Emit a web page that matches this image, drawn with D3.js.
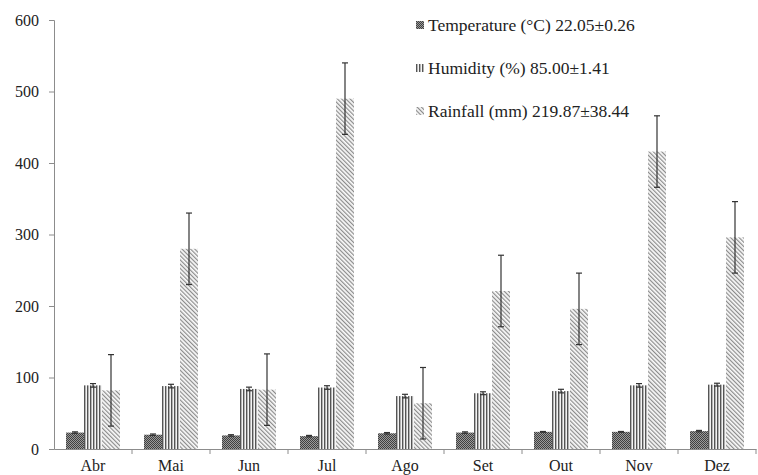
<!DOCTYPE html>
<html>
<head>
<meta charset="utf-8">
<script src="https://cdn.jsdelivr.net/npm/d3@7"></script>
<style>
	body { margin: 0; background: #fff; }
	svg, text { font-family: "Liberation Serif", "Times New Roman", serif; }
</style>
</head>
<body>
<svg id="chart" width="758" height="475"></svg>
<script>
const months = ['Abr', 'Mai', 'Jun', 'Jul', 'Ago', 'Set', 'Out', 'Nov', 'Dez'];
const series_names = ['Temperature (°C) 22.05±0.26', 'Humidity (%) 85.00±1.41', 'Rainfall (mm) 219.87±38.44'];
const temperature = [23, 20, 19, 18, 22, 23, 24, 24, 25];
const temperature_err = [1, 1, 1, 1, 1, 1, 0.5, 0.5, 1];
const humidity = [89, 88, 84, 86, 74, 78, 81, 89, 90];
const humidity_err = [2.5, 2.5, 2.5, 2.5, 2.5, 2, 2.5, 2.5, 2];
const rainfall = [82, 280, 83, 490, 64, 221, 196, 416, 296];
const rainfall_err = [50, 50, 50, 50, 50, 50, 50, 50, 50];
const y_ticks = [0, 100, 200, 300, 400, 500, 600];

let svg = d3.select('#chart'),
	margin = {left: 54, right: 2, top: 20, bottom: 26},
	width = 758 - margin.left - margin.right,
	height = 475 - margin.top - margin.bottom,
	serif = '"Liberation Serif", "Times New Roman", serif';

// patterns
let defs = svg.append('defs');

let p_temp = defs.append('pattern')
	.attr('id', 'pat_temp')
	.attr('patternUnits', 'userSpaceOnUse')
	.attr('width', 2).attr('height', 2);
p_temp.append('rect').attr('width', 2).attr('height', 2).attr('fill', '#9a9a9a');
p_temp.append('rect').attr('width', 1).attr('height', 1).attr('fill', '#404040');
p_temp.append('rect').attr('x', 1).attr('y', 1).attr('width', 1).attr('height', 1).attr('fill', '#404040');

let p_hum = defs.append('pattern')
	.attr('id', 'pat_hum')
	.attr('patternUnits', 'userSpaceOnUse')
	.attr('width', 3).attr('height', 3);
p_hum.append('rect').attr('width', 3).attr('height', 3).attr('fill', '#f4f4f4');
p_hum.append('rect').attr('width', 1.4).attr('height', 3).attr('fill', '#555');

let p_rain = defs.append('pattern')
	.attr('id', 'pat_rain')
	.attr('patternUnits', 'userSpaceOnUse')
	.attr('width', 3).attr('height', 3)
	.attr('patternTransform', 'rotate(-45)');
p_rain.append('rect').attr('width', 3).attr('height', 3).attr('fill', '#fafafa');
p_rain.append('rect').attr('width', 1.2).attr('height', 3).attr('fill', '#8c8c8c');

const fills = ['url(#pat_temp)', 'url(#pat_hum)', 'url(#pat_rain)'];

let x = d3.scaleBand()
	.domain(months)
	.range([0, width])
	.paddingInner(0)
	.paddingOuter(0);

let xInner = d3.scaleBand()
	.domain([0, 1, 2])
	.range([12, x.bandwidth() - 12]);

let y = d3.scaleLinear()
	.domain([0, 600])
	.range([height, 0]);

let g = svg.append('g')
	.attr('transform', `translate(${margin.left}, ${margin.top})`);

// y axis
let yAxis = g.append('g')
	.call(d3.axisLeft(y).tickValues(y_ticks).tickSize(5).tickPadding(10));
yAxis.attr('font-family', serif).attr('font-size', 16);
yAxis.select('.domain').attr('stroke', '#8c8c8c');
yAxis.selectAll('.tick line').attr('stroke', '#8c8c8c');
yAxis.selectAll('.tick text').attr('fill', '#222');

// x axis
let xAxis = g.append('g')
	.attr('transform', `translate(0, ${height})`)
	.call(d3.axisBottom(x).tickSize(0));
xAxis.attr('font-family', serif).attr('font-size', 16);
xAxis.select('.domain').attr('stroke', '#8c8c8c');
xAxis.selectAll('.tick text')
	.attr('y', 22)
	.attr('dy', 0)
	.attr('fill', '#222');

g.selectAll('.cat_tick')
	.data(months.slice(1).concat(['end']))
	.enter()
	.append('line')
	.attr('class', 'cat_tick')
	.attr('x1', (d, i) => x.bandwidth() * (i + 1))
	.attr('x2', (d, i) => x.bandwidth() * (i + 1))
	.attr('y1', height)
	.attr('y2', height + 5)
	.attr('stroke', '#8c8c8c');

// bars
let bar_data = [];
let all_vals = [temperature, humidity, rainfall],
	all_errs = [temperature_err, humidity_err, rainfall_err];
months.forEach((m, i) => {
	all_vals.forEach((vals, s) => {
		bar_data.push({month: m, s: s, v: vals[i], e: all_errs[s][i]});
	});
});

g.selectAll('.bar')
	.data(bar_data)
	.enter()
	.append('rect')
	.attr('class', 'bar')
	.attr('x', d => x(d.month) + xInner(d.s))
	.attr('y', d => y(d.v))
	.attr('width', xInner.bandwidth())
	.attr('height', d => height - y(d.v))
	.attr('fill', d => fills[d.s]);

// error bars
let err_g = g.selectAll('.err')
	.data(bar_data)
	.enter()
	.append('g')
	.attr('class', 'err')
	.attr('transform', d => `translate(${x(d.month) + xInner(d.s) + xInner.bandwidth() / 2}, 0)`)
	.attr('stroke', '#333')
	.attr('stroke-width', 1.2);

err_g.append('line')
	.attr('x1', 0).attr('x2', 0)
	.attr('y1', d => y(d.v + d.e))
	.attr('y2', d => y(d.v - d.e));
err_g.append('line')
	.attr('x1', -3).attr('x2', 3)
	.attr('y1', d => y(d.v + d.e))
	.attr('y2', d => y(d.v + d.e));
err_g.append('line')
	.attr('x1', -3).attr('x2', 3)
	.attr('y1', d => y(d.v - d.e))
	.attr('y2', d => y(d.v - d.e));

// legend
let legend = svg.append('g')
	.attr('transform', 'translate(416, 25)');

let leg_item = legend.selectAll('.leg')
	.data(series_names)
	.enter()
	.append('g')
	.attr('class', 'leg')
	.attr('transform', (d, i) => `translate(0, ${i * 43})`);

leg_item.append('rect')
	.attr('x', 0)
	.attr('y', -4)
	.attr('width', 8)
	.attr('height', 8)
	.attr('fill', (d, i) => fills[i]);

leg_item.append('text')
	.attr('x', 12)
	.attr('y', 6)
	.attr('font-family', serif)
	.attr('font-size', 17.5)
	.attr('fill', '#222')
	.text(d => d);
</script>
</body>
</html>
